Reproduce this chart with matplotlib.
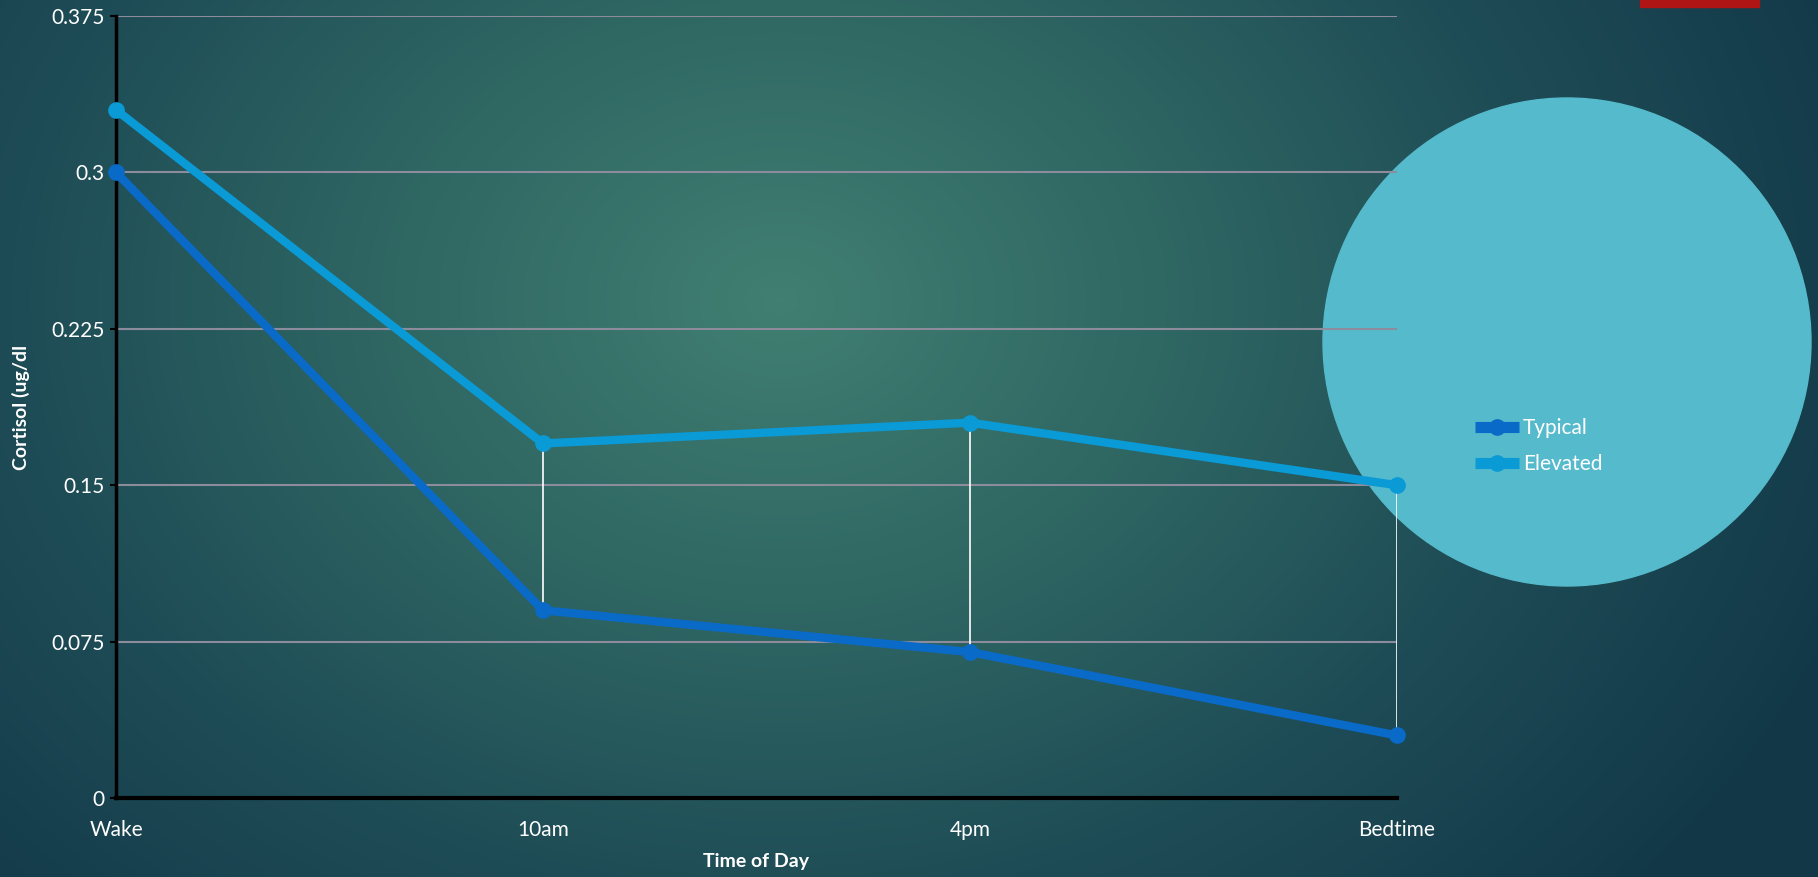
import numpy as np
import matplotlib
matplotlib.use('Agg')
import matplotlib.pyplot as plt
from matplotlib.colors import LinearSegmentedColormap
from matplotlib.patches import Circle, Rectangle

categories = ['Wake', '10am', '4pm', 'Bedtime']
typical = [0.3, 0.09, 0.07, 0.03]
elevated = [0.33, 0.17, 0.18, 0.15]
yticks = [0, 0.075, 0.15, 0.225, 0.3, 0.375]
ytick_labels = ['0', '0.075', '0.15', '0.225', '0.3', '0.375']

plt.rcParams['font.family'] = ['Lato', 'DejaVu Sans']

W, H = 1818, 877
fig = plt.figure(figsize=(W / 100, H / 100), dpi=100)

# background radial gradient
bg = fig.add_axes([0, 0, 1, 1], zorder=-10)
yy, xx = np.mgrid[0:H, 0:W]
cx, cy = 780, 300
r = np.sqrt(((xx - cx) / 1150.0) ** 2 + ((yy - cy) / 900.0) ** 2)
r = np.clip(r, 0, 1)
cmap = LinearSegmentedColormap.from_list('bg', ['#417f72', '#2f6763', '#1e4c56', '#123848'])
bg.imshow(r, cmap=cmap, aspect='auto', extent=[0, W, H, 0], interpolation='bilinear')
bg.set_xlim(0, W)
bg.set_ylim(H, 0)
bg.axis('off')

# decorative circle and red bar
bg.add_patch(Circle((1567, 342), 244, color='#55bacb', zorder=2))
bg.add_patch(Rectangle((1640, 0), 119, 7, color='#b01515', zorder=2))

ax = fig.add_axes([116 / W, 1 - 798 / H, (1397 - 116) / W, (798 - 16) / H])
ax.patch.set_alpha(0)
x = np.arange(len(categories))

for yv in yticks[1:]:
    ax.axhline(yv, color='#8c8c9c', lw=1.5, zorder=1)

# high-low lines
ax.vlines(x, typical, elevated, color='white', lw=1.2, zorder=2)

ax.plot(x, typical, color='#0a6ac8', lw=6, marker='o', ms=11, label='Typical',
        solid_capstyle='round', zorder=3, clip_on=False)
ax.plot(x, elevated, color='#0a9ad6', lw=6, marker='o', ms=11, label='Elevated',
        solid_capstyle='round', zorder=3, clip_on=False)

ax.set_xlim(0, 3)
ax.set_ylim(0, 0.375)
ax.set_xticks(x)
ax.set_xticklabels(categories, color='white', fontsize=15)
ax.set_yticks(yticks)
ax.set_yticklabels(ytick_labels, color='white', fontsize=15)
ax.tick_params(axis='x', length=0, pad=16)
ax.tick_params(axis='y', length=4, width=1.5, color='black', pad=4)
for s in ['top', 'right']:
    ax.spines[s].set_visible(False)
ax.spines['left'].set_linewidth(2.5)
ax.spines['bottom'].set_linewidth(3)
ax.spines['left'].set_color('black')
ax.spines['bottom'].set_color('black')

fig.text(21 / W, 1 - 407 / H, 'Cortisol (ug/dl', rotation=90, color='white',
         fontsize=14, fontweight='bold', ha='center', va='center')
fig.text(756 / W, 1 - 861 / H, 'Time of Day', color='white',
         fontsize=14, fontweight='bold', ha='center', va='center')

leg = ax.legend(loc='center left', bbox_to_anchor=(1475 / W, 1 - 446 / H),
                bbox_transform=fig.transFigure, frameon=False, fontsize=15,
                labelcolor='white', handlelength=2.1, handletextpad=0.2,
                labelspacing=0.75, borderpad=0, borderaxespad=0)
for h in leg.legend_handles:
    h.set_linewidth(8)
    h.set_solid_capstyle('butt')

fig.savefig('out.png', dpi=100)
